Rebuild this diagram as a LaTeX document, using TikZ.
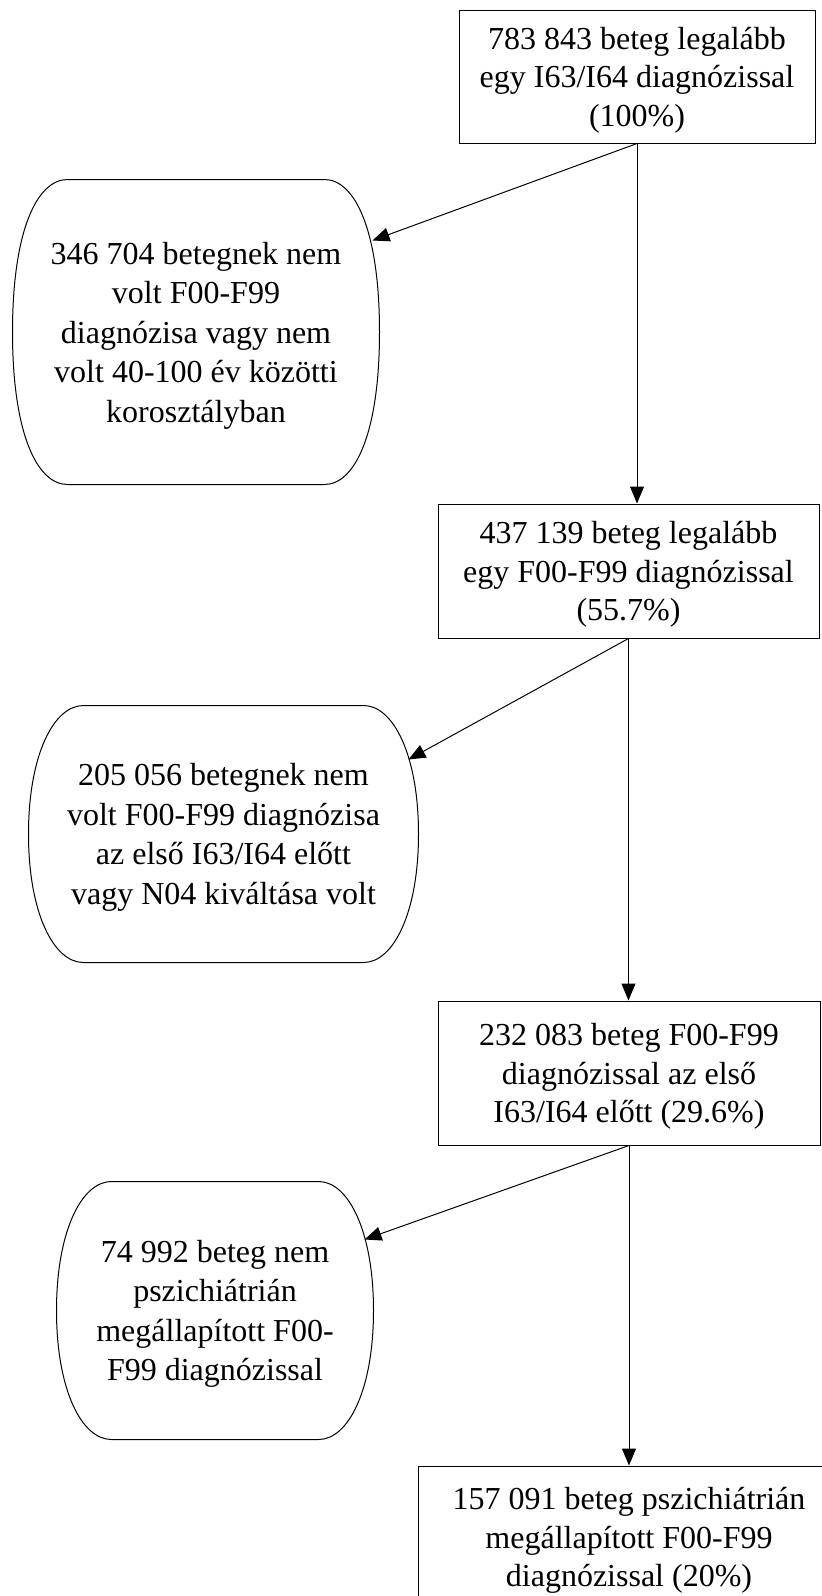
\documentclass[tikz,border=0pt]{standalone}
\usepackage{fontspec}
\setmainfont{Liberation Serif}
\usetikzlibrary{calc,arrows.meta}
\tikzset{box/.style={rectangle,draw,inner sep=0pt,align=center,text depth=-3pt,font=\fontsize{32}{38.5}\selectfont},
  barrel/.style={rectangle,inner sep=0pt,align=center,text depth=-3pt,font=\fontsize{32}{39.5}\selectfont},
  link/.style={-{Triangle[length=17pt,width=14pt]}}}

\begin{document}
\begin{tikzpicture}[x=1pt,y=-1pt,line width=1pt]
  \useasboundingbox (0,0) rectangle (822,1596);
  \node[box,minimum width=356pt,minimum height=133pt] (b1) at (637,76.5) {783 843 beteg legalább\\egy I63/I64 diagnózissal\\(100\%)};
  \node[box,minimum width=381pt,minimum height=134pt] (b2) at (628.5,571) {437 139 beteg legalább\\egy F00-F99 diagnózissal\\(55.7\%)};
  \node[box,minimum width=382pt,minimum height=144pt] (b3) at (629,1073) {232 083 beteg F00-F99\\diagnózissal az első\\I63/I64 előtt (29.6\%)};
  \node[box,minimum width=422pt,minimum height=142pt] (b4) at (629,1537) {157 091 beteg pszichiátrián\\megállapított F00-F99\\diagnózissal (20\%)};
  \node[barrel,minimum width=366pt,minimum height=304pt] (x1) at (196,332) {346 704 betegnek nem\\volt F00-F99\\diagnózisa vagy nem\\volt 40-100 év közötti\\korosztályban};
  \node[barrel,minimum width=389pt,minimum height=256pt] (x2) at (223.5,834) {205 056 betegnek nem\\volt F00-F99 diagnózisa\\az első I63/I64 előtt\\vagy N04 kiváltása volt};
  \node[barrel,minimum width=316pt,minimum height=257pt] (x3) at (215,1310.5) {74 992 beteg nem\\pszichiátrián\\megállapított F00-\\F99 diagnózissal};
  % rounded outlines
  \foreach \n in {x1,x2,x3}{
    \draw ($(\n.north west)+(55,0)$) -- ($(\n.north east)+(-55,0)$)
      .. controls ($(\n.north east)+(-25,0)$) and ($(\n.north east)+(0,50)$) .. (\n.east)
      .. controls ($(\n.south east)+(0,-50)$) and ($(\n.south east)+(-25,0)$) .. ($(\n.south east)+(-55,0)$)
      -- ($(\n.south west)+(55,0)$)
      .. controls ($(\n.south west)+(25,0)$) and ($(\n.south west)+(0,-50)$) .. (\n.west)
      .. controls ($(\n.north west)+(0,50)$) and ($(\n.north west)+(25,0)$) .. cycle;
  }
  \draw[link] (b1.south) -- (b1.south |- b2.north);
  \draw[link] (b2.south) -- (b2.south |- b3.north);
  \draw[link] (b3.south) -- (b3.south |- b4.north);
  \draw[link] (b1.south) -- ($(x1.north east)+(-7,61)$);
  \draw[link] (b2.south) -- ($(x2.north east)+(-10,54)$);
  \draw[link] (b3.south) -- ($(x3.north east)+(-9,58)$);
\end{tikzpicture}
\end{document}
